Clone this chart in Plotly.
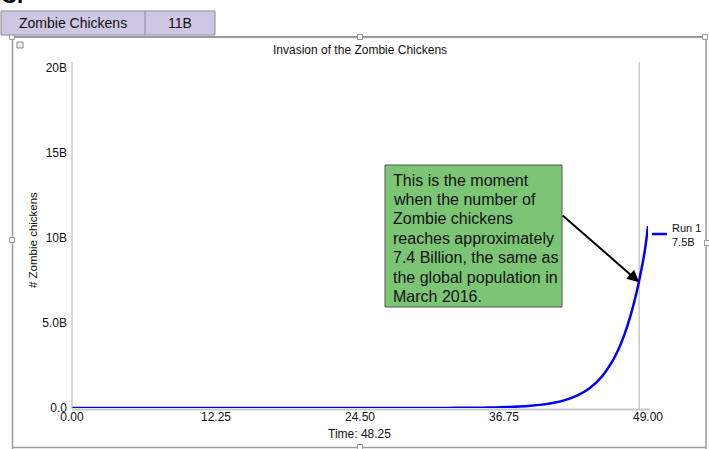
import plotly.graph_objects as go

# ---- data (values in billions) ----
time = [0, 5, 10, 15, 20, 25, 28, 30, 32, 34, 35, 36, 37, 38, 39, 40, 41, 42, 43, 44,
        45, 46, 46.5, 47, 47.5, 48, 48.25, 48.5, 48.75, 49]
zombies = [0.000000005, 0.00000004, 0.0000004, 0.000003, 0.00003, 0.00026, 0.0010, 0.0024,
           0.0058, 0.014, 0.022, 0.034, 0.053, 0.082, 0.127, 0.198, 0.308, 0.479, 0.745, 1.15,
           1.79, 2.79, 3.47, 4.33, 5.40, 6.72, 7.5, 8.37, 9.35, 10.7]
x_tickvals = [0, 12.25, 24.5, 36.75, 49]
x_ticktext = ["0.00", "12.25", "24.50", "36.75", "49.00"]
y_tickvals = [0, 5, 10, 15, 20]
y_ticktext = ["0.0", "5.0B", "10B", "15B", "20B"]
current_time = 48.25
current_value = 7.4
run_label = "Run 1"
run_value = "7.5B"
header_name = "Zombie Chickens"
header_value = "11B"
title = "Invasion of the Zombie Chickens"
note_lines = ["This is the moment", "when the number of", "Zombie chickens", "reaches approximately",
              "7.4 Billion, the same as", "the global population in", "March 2016."]

W, H = 709, 449
FONT = "Arial, Liberation Sans, Helvetica, sans-serif"


def px(x):
    return x / W


def py(y):
    return 1 - y / H


fig = go.Figure()
fig.add_trace(go.Scatter(x=time, y=zombies, mode="lines",
                         line=dict(color="#0000ff", width=2.5, shape="spline"),
                         showlegend=False, hoverinfo="skip"))

shapes = []
grey = "#9a9a9a"
# outer frame
shapes.append(dict(type="line", xref="paper", yref="paper", x0=px(12), x1=px(706), y0=py(37), y1=py(37),
                   line=dict(color=grey, width=2)))
shapes.append(dict(type="line", xref="paper", yref="paper", x0=px(12.5), x1=px(12.5), y0=py(37), y1=py(449),
                   line=dict(color=grey, width=1.5)))
shapes.append(dict(type="line", xref="paper", yref="paper", x0=px(706), x1=px(706), y0=py(37), y1=py(449),
                   line=dict(color=grey, width=1.5)))
shapes.append(dict(type="line", xref="paper", yref="paper", x0=px(12), x1=px(706), y0=py(447.5), y1=py(447.5),
                   line=dict(color=grey, width=1.5)))
# handles
for hx, hy in [(12, 37), (360, 37), (705, 37), (12, 240), (707, 243), (360, 447)]:
    shapes.append(dict(type="rect", xref="paper", yref="paper", x0=px(hx - 2.5), x1=px(hx + 2.5),
                       y0=py(hy + 2.5), y1=py(hy - 2.5), fillcolor="white", line=dict(color="#999", width=1)))
# header table
shapes.append(dict(type="rect", xref="paper", yref="paper", x0=px(1), x1=px(215), y0=py(35), y1=py(11),
                   fillcolor="#cdc7e4", line=dict(color="#8a8a9a", width=1)))
shapes.append(dict(type="line", xref="paper", yref="paper", x0=px(145), x1=px(145), y0=py(35), y1=py(11),
                   line=dict(color="#8a8a9a", width=1)))
# small icon
shapes.append(dict(type="rect", xref="paper", yref="paper", x0=px(17), x1=px(23), y0=py(48), y1=py(42),
                   fillcolor="#eeeeee", line=dict(color="#888", width=1)))
# axes lines
shapes.append(dict(type="line", xref="paper", yref="paper", x0=px(72), x1=px(72), y0=py(62), y1=py(409),
                   line=dict(color="#b0b0b0", width=1)))
shapes.append(dict(type="line", xref="paper", yref="paper", x0=px(72), x1=px(650), y0=py(409.5), y1=py(409.5),
                   line=dict(color="#c8c8c8", width=2)))
# current-time line
shapes.append(dict(type="line", xref="x", yref="paper", x0=current_time, x1=current_time, y0=py(62), y1=py(409),
                   line=dict(color="#b0b0b0", width=1), layer="below"))
# note box
shapes.append(dict(type="rect", xref="paper", yref="paper", x0=px(385), x1=px(562), y0=py(307), y1=py(165),
                   fillcolor="#7bc574", line=dict(color="#555555", width=1)))
# legend line
shapes.append(dict(type="line", xref="paper", yref="paper", x0=px(652), x1=px(667), y0=py(234), y1=py(234),
                   line=dict(color="#0000ff", width=2.5)))

ann = []
ann.append(dict(text="<b>C.</b>", xref="paper", yref="paper", x=px(-1), y=py(10), xanchor="left",
                yanchor="bottom", showarrow=False, font=dict(size=22, color="black", family=FONT)))
ann.append(dict(text=header_name, xref="paper", yref="paper", x=px(73), y=py(23), xanchor="center",
                yanchor="middle", showarrow=False, font=dict(size=14, color="#111", family=FONT)))
ann.append(dict(text=header_value, xref="paper", yref="paper", x=px(180), y=py(23), xanchor="center",
                yanchor="middle", showarrow=False, font=dict(size=14, color="#111", family=FONT)))
ann.append(dict(text=title, xref="paper", yref="paper", x=px(360), y=py(50), xanchor="center",
                yanchor="middle", showarrow=False, font=dict(size=12, color="#111", family=FONT)))
ann.append(dict(text="# Zombie chickens", xref="paper", yref="paper", x=px(33), y=py(240), xanchor="center",
                yanchor="middle", textangle=-90, showarrow=False, font=dict(size=11.5, color="#111", family=FONT)))
ann.append(dict(text="Time: %.2f" % current_time, xref="paper", yref="paper", x=px(359), y=py(434),
                xanchor="center", yanchor="middle", showarrow=False,
                font=dict(size=12, color="#111", family=FONT)))
for i, line in enumerate(note_lines):
    ann.append(dict(text=line, xref="paper", yref="paper", x=px(391), y=py(180 + 19.4 * i), xanchor="left",
                    yanchor="middle", align="left", showarrow=False, font=dict(size=16, color="#111", family=FONT)))
ann.append(dict(text="", x=current_time, y=current_value, xref="x", yref="y", showarrow=True,
                ax=-78, ay=-68, arrowhead=2, arrowsize=1.2, arrowwidth=2, arrowcolor="black"))
ann.append(dict(text=run_label, xref="paper", yref="paper", x=px(670), y=py(228), xanchor="left",
                yanchor="middle", showarrow=False, font=dict(size=11, color="#111", family=FONT)))
ann.append(dict(text=run_value, xref="paper", yref="paper", x=px(670), y=py(242), xanchor="left",
                yanchor="middle", showarrow=False, font=dict(size=11, color="#111", family=FONT)))

fig.update_layout(
    width=W, height=H, autosize=False,
    margin=dict(l=0, r=0, t=0, b=0, pad=0, autoexpand=False),
    paper_bgcolor="white", plot_bgcolor="white",
    showlegend=False,
    font=dict(family=FONT, size=12, color="#111"),
    xaxis=dict(domain=[px(72), px(648)], range=[0, 49], tickvals=x_tickvals, ticktext=x_ticktext,
               showgrid=False, zeroline=False, showline=False, ticks="", ticklen=0,
               tickfont=dict(size=12, family=FONT, color="#111"), automargin=False),
    yaxis=dict(domain=[py(408), py(62)], range=[0, 20.35], tickvals=y_tickvals, ticktext=y_ticktext,
               showgrid=False, zeroline=False, showline=False, ticks="", ticklen=0,
               ticklabelstandoff=4,
               tickfont=dict(size=12, family=FONT, color="#111"), automargin=False),
    shapes=shapes,
    annotations=ann,
)

fig.write_html("out.html", config={"displayModeBar": False},
               post_script="document.body.style.margin='0';document.body.style.overflow='hidden';")
